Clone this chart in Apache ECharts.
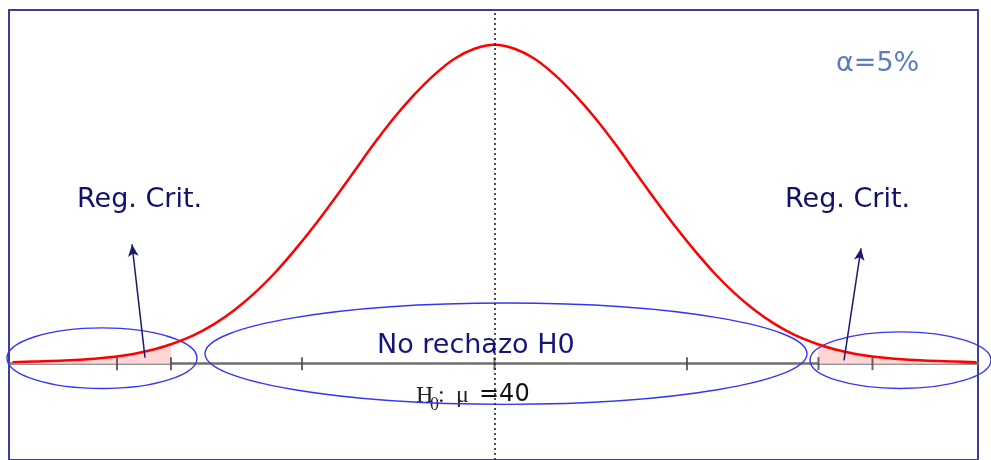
<!DOCTYPE html>
<html>
<head>
<meta charset="utf-8">
<script src="https://cdn.jsdelivr.net/npm/echarts@6/dist/echarts.min.js"></script>
<style>html,body{margin:0;padding:0;background:#fff}#c{width:991px;height:460px}</style>
</head>
<body>
<div id="c"></div>
<script>
// Curve (x: offset from mu, y: height above axis)
const curveX = [-4.82,-4.60,-4.30,-4.00,-3.80,-3.60,-3.40,-3.235,-3.00,-2.80,-2.60,-2.40,-2.20,-2.00,-1.80,-1.60,-1.40,-1.20,-1.00,-0.80,-0.60,-0.40,-0.20,0,0.20,0.40,0.60,0.80,1.00,1.20,1.40,1.60,1.80,2.00,2.20,2.40,2.60,2.80,3.00,3.235,3.40,3.60,3.80,4.00,4.30,4.60,4.82];
const curveY = [0.015,0.022,0.032,0.05,0.07,0.10,0.145,0.195,0.29,0.40,0.54,0.71,0.91,1.14,1.39,1.66,1.94,2.22,2.48,2.71,2.91,3.07,3.17,3.21,3.17,3.07,2.91,2.71,2.48,2.22,1.94,1.66,1.39,1.14,0.91,0.71,0.54,0.40,0.29,0.195,0.145,0.10,0.07,0.05,0.032,0.022,0.015];
const critLeft = -3.235;
const critRight = 3.235;
const tickValues = [-3.775,-3.235,-1.925,0,1.925,3.24,3.78];
// ellipses: [centerX, centerY, radiusX, radiusY]
const ellipses = [[-3.925,0.055,0.95,0.305],[0.115,0.10,3.01,0.51],[4.06,0.035,0.905,0.285]];
// arrows: [fromX, fromY, toX, toY]
const arrows = [[-3.495,0.06,-3.625,1.20],[3.495,0.033,3.665,1.16]];

const curve = curveX.map((x,i)=>[x,curveY[i]]);
const shadeL = curve.filter(p=>p[0]<=critLeft+1e-9);
const shadeR = curve.filter(p=>p[0]>=critRight-1e-9);

const chart = echarts.init(document.getElementById('c'));
chart.setOption({
  animation:false,
  backgroundColor:'#ffffff',
  grid:{left:9,right:13,top:10,bottom:-3,show:true,borderColor:'#3c3c9c',borderWidth:2,backgroundColor:'transparent'},
  xAxis:{type:'value',min:-4.855,max:4.835,
    axisLine:{show:true,onZero:true,lineStyle:{color:'#707070',width:2.5}},
    axisTick:{show:false},axisLabel:{show:false},splitLine:{show:false}},
  yAxis:{type:'value',min:-0.97,max:3.56,show:false,splitLine:{show:false}},
  series:[
    {type:'line',data:shadeL,smooth:0.3,symbol:'none',lineStyle:{width:0},areaStyle:{color:'#ffd6d6',opacity:1},z:1,silent:true},
    {type:'line',data:shadeR,smooth:0.3,symbol:'none',lineStyle:{width:0},areaStyle:{color:'#ffd6d6',opacity:1},z:1,silent:true},
    {type:'custom',z:2,clip:false,silent:true,data:ellipses,
      renderItem:function(params,api){
        const c = api.coord([api.value(0),api.value(1)]);
        const s = api.size([api.value(2),api.value(3)]);
        return {type:'ellipse',shape:{cx:c[0],cy:c[1],rx:s[0],ry:s[1]},
          style:{stroke:'#3535f5',fill:null,lineWidth:1.4}};
      }},
    {type:'line',data:curve,smooth:0.3,symbol:'none',lineStyle:{color:'#ff0000',width:2.5},z:3,silent:true,
      markLine:{silent:true,symbol:['none','none'],label:{show:false},
        lineStyle:{color:'#222222',type:[2,3],width:1.6},
        data:[{xAxis:0}]}},
    {type:'scatter',data:tickValues.map(v=>[v,0]),symbol:'rect',symbolSize:[2,13],itemStyle:{color:'#444444'},z:4,silent:true,
      markLine:{silent:true,symbol:['none','arrow'],symbolSize:[8,12],label:{show:false},
        lineStyle:{color:'#1a1a6e',width:1.5,type:'solid'},
        data:arrows.map(a=>[{coord:[a[0],a[1]]},{coord:[a[2],a[3]]}])}}
  ],
  graphic:[
    {type:'text',x:77,y:200,style:{text:'Reg. Crit.',font:'27px "DejaVu Sans"',fill:'#10106a',verticalAlign:'middle',align:'left'}},
    {type:'text',x:785,y:200,style:{text:'Reg. Crit.',font:'27px "DejaVu Sans"',fill:'#10106a',verticalAlign:'middle',align:'left'}},
    {type:'text',x:377,y:346,style:{text:'No rechazo H0',font:'27px "DejaVu Sans"',fill:'#15157c',verticalAlign:'middle',align:'left'}},
    {type:'text',x:416,y:396,style:{text:'H',font:'24px "Liberation Serif"',fill:'#222',verticalAlign:'middle',align:'left'}},
    {type:'text',x:430,y:405,style:{text:'0',font:'18px "Liberation Serif"',fill:'#222',verticalAlign:'middle',align:'left'}},
    {type:'text',x:438,y:396,style:{text:':',font:'24px "Liberation Serif"',fill:'#222',verticalAlign:'middle',align:'left'}},
    {type:'text',x:456,y:396,style:{text:'μ',font:'24px "Liberation Serif"',fill:'#222',verticalAlign:'middle',align:'left'}},
    {type:'text',x:479,y:395,style:{text:'=40',font:'24px "DejaVu Sans"',fill:'#111',verticalAlign:'middle',align:'left'}},
    {type:'text',x:836,y:64,style:{text:'α=5%',font:'27px "DejaVu Sans"',fill:'#5b7dbf',verticalAlign:'middle',align:'left'}}
  ]
});
</script>
</body>
</html>
